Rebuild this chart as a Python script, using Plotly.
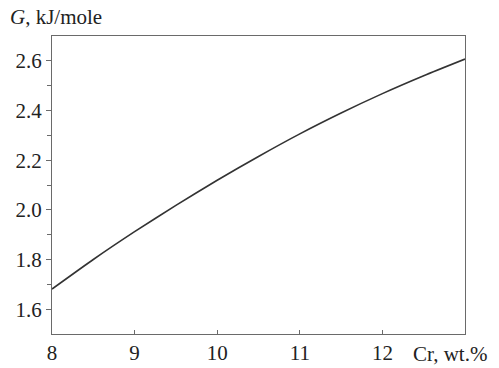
import plotly.graph_objects as go

cr = [8, 8.5, 9, 9.5, 10, 10.5, 11, 11.5, 12, 12.5, 13]
g = [1.681, 1.80, 1.912, 2.018, 2.119, 2.215, 2.306, 2.39, 2.468, 2.54, 2.607]
x_ticks = [8, 9, 10, 11, 12]
y_ticks = [1.6, 1.8, 2.0, 2.2, 2.4, 2.6]

L, R, T, B = 52, 34, 36, 34
W, H = 499, 368
pw, ph = W - L - R, H - T - B
FONT = "Liberation Serif, Times New Roman, serif"

fig = go.Figure()
fig.add_trace(go.Scatter(x=cr, y=g, mode="lines",
                         line=dict(color="#333333", width=1.6, shape="spline", smoothing=0.6),
                         showlegend=False, hoverinfo="skip"))

axis_common = dict(showgrid=False, zeroline=False, showline=True, linecolor="#6a6a6a",
                   linewidth=1.3, mirror=True, tickcolor="#6a6a6a",
                   tickwidth=1, automargin=False,
                   tickfont=dict(family=FONT, size=21, color="#222222"))
fig.update_xaxes(range=[8, 13], tickvals=x_ticks, ticktext=[str(v) for v in x_ticks],
                 ticks="inside", ticklen=4, **axis_common)
fig.update_yaxes(range=[1.5, 2.7], tickvals=y_ticks, ticktext=[f"{v:.1f}" for v in y_ticks],
                 ticks="outside", ticklen=5,
                 minor=dict(tickvals=[1.7, 1.9, 2.1, 2.3, 2.5], ticks="outside", ticklen=4,
                            tickcolor="#6a6a6a"),
                 **axis_common)

fig.add_annotation(xref="paper", yref="paper", x=(8 - L) / pw, y=1 + (36 - 17) / ph,
                   xanchor="left", yanchor="middle", showarrow=False,
                   text="<i>G</i>, kJ/mole",
                   font=dict(family=FONT, size=21, color="#222222"))
fig.add_annotation(xref="paper", yref="paper", x=(411 - L) / pw, y=-(354 - (H - B)) / ph,
                   xanchor="left", yanchor="middle", showarrow=False,
                   text="Cr, wt.%",
                   font=dict(family=FONT, size=21, color="#222222"))

fig.update_layout(width=W, height=H, margin=dict(l=L, r=R, t=T, b=B),
                  font=dict(family=FONT, size=21, color="#222222"),
                  paper_bgcolor="white", plot_bgcolor="white")
fig.write_html("out.html")
